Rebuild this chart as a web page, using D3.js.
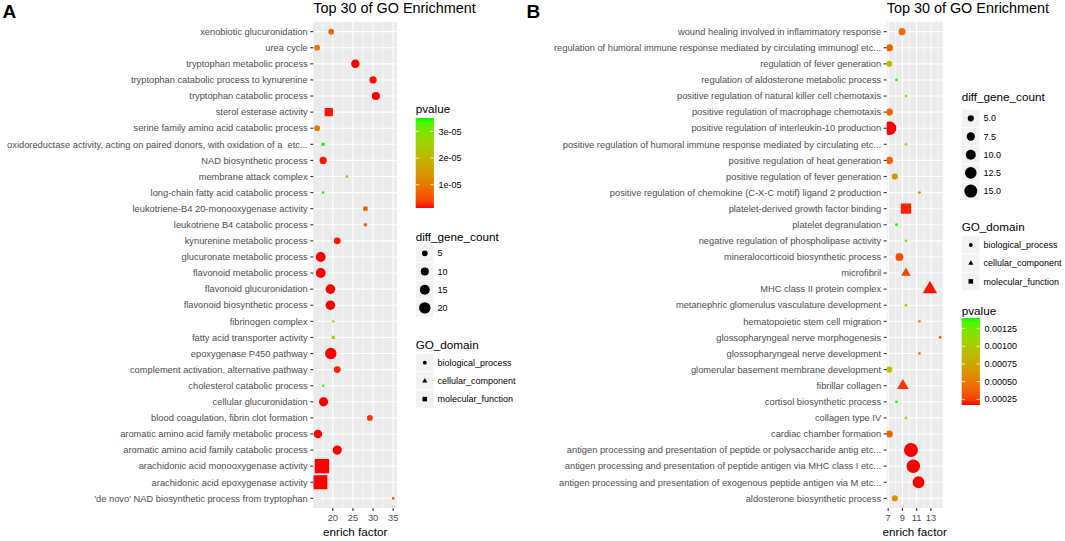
<!DOCTYPE html>
<html>
<head>
<meta charset="utf-8">
<script src="https://cdn.jsdelivr.net/npm/d3@7"></script>
<style>
  body { margin: 0; background: #fff; }
  svg text { font-family: 'Liberation Sans', Arial, sans-serif; white-space: pre; }
</style>
</head>
<body>
<svg width="1065" height="541"></svg>
<script>
// ---- panel A data (top to bottom) ----
const termsA = [
  'xenobiotic glucuronidation', 'urea cycle', 'tryptophan metabolic process',
  'tryptophan catabolic process to kynurenine', 'tryptophan catabolic process',
  'sterol esterase activity', 'serine family amino acid catabolic process',
  'oxidoreductase activity, acting on paired donors, with oxidation of a  etc...',
  'NAD biosynthetic process', 'membrane attack complex',
  'long-chain fatty acid catabolic process', 'leukotriene-B4 20-monooxygenase activity',
  'leukotriene B4 catabolic process', 'kynurenine metabolic process',
  'glucuronate metabolic process', 'flavonoid metabolic process',
  'flavonoid glucuronidation', 'flavonoid biosynthetic process', 'fibrinogen complex',
  'fatty acid transporter activity', 'epoxygenase P450 pathway',
  'complement activation, alternative pathway', 'cholesterol catabolic process',
  'cellular glucuronidation', 'blood coagulation, fibrin clot formation',
  'aromatic amino acid family metabolic process', 'aromatic amino acid family catabolic process',
  'arachidonic acid monooxygenase activity', 'arachidonic acid epoxygenase activity',
  '\'de novo\' NAD biosynthetic process from tryptophan'
];
const enrichA = [19.6, 16.1, 25.6, 30.0, 30.7, 19.0, 16.1, 17.6, 17.6, 23.5, 17.6, 28.1, 28.1, 21.1, 17.0,
  17.0, 19.4, 19.4, 20.1, 20.1, 19.5, 21.1, 17.6, 17.7, 29.2, 16.3, 21.1, 17.3, 16.9, 35.0];
const countA = [5, 5, 11, 8, 10, 7, 5, 1, 8, 1, 1, 2, 2, 7, 15, 15, 14, 14, 1, 1, 20, 7, 1, 13, 5, 11, 13, 22, 21, 1];
const pvalA = [7.0e-6, 9.7e-6, 1.3e-6, 1.6e-6, 1.3e-6, 1.6e-6, 9.7e-6, 3.5e-5, 1.6e-6, 1.48e-5, 3.5e-5, 6.4e-6,
  6.4e-6, 1.6e-6, 1.3e-6, 1.3e-6, 1.3e-6, 1.3e-6, 2.32e-5, 2.32e-5, 1.3e-6, 2.0e-6, 3.4e-5, 1.3e-6, 3.0e-6,
  1.3e-6, 1.3e-6, 1.3e-6, 1.3e-6, 5.3e-6];
const domainA = ['bp', 'bp', 'bp', 'bp', 'bp', 'mf', 'bp', 'mf', 'bp', 'cc', 'bp', 'mf', 'bp', 'bp', 'bp',
  'bp', 'bp', 'bp', 'cc', 'mf', 'bp', 'bp', 'bp', 'bp', 'bp', 'bp', 'bp', 'mf', 'mf', 'bp'];

// ---- panel B data (top to bottom) ----
const termsB = [
  'wound healing involved in inflammatory response',
  'regulation of humoral immune response mediated by circulating immunogl etc...',
  'regulation of fever generation', 'regulation of aldosterone metabolic process',
  'positive regulation of natural killer cell chemotaxis',
  'positive regulation of macrophage chemotaxis',
  'positive regulation of interleukin-10 production',
  'positive regulation of humoral immune response mediated by circulating etc...',
  'positive regulation of heat generation', 'positive regulation of fever generation',
  'positive regulation of chemokine (C-X-C motif) ligand 2 production',
  'platelet-derived growth factor binding', 'platelet degranulation',
  'negative regulation of phospholipase activity', 'mineralocorticoid biosynthetic process',
  'microfibril', 'MHC class II protein complex', 'metanephric glomerulus vasculature development',
  'hematopoietic stem cell migration', 'glossopharyngeal nerve morphogenesis',
  'glossopharyngeal nerve development', 'glomerular basement membrane development',
  'fibrillar collagen', 'cortisol biosynthetic process', 'collagen type IV',
  'cardiac chamber formation',
  'antigen processing and presentation of peptide or polysaccharide antig etc...',
  'antigen processing and presentation of peptide antigen via MHC class I etc...',
  'antigen processing and presentation of exogenous peptide antigen via M etc...',
  'aldosterone biosynthetic process'
];
const enrichB = [8.95, 7.18, 7.15, 8.16, 9.5, 7.18, 7.2, 9.5, 7.18, 7.93, 11.4, 9.5, 8.16, 9.5, 8.58,
  9.5, 12.86, 9.5, 11.4, 14.3, 11.4, 7.15, 9.07, 8.16, 9.5, 7.15, 10.2, 10.53, 11.27, 7.93];
const countB = [6, 6, 5, 2, 2, 6, 16, 2, 6, 5, 2, 8, 2, 2, 7, 6, 11, 2, 2, 2, 2, 5, 8, 2, 2, 6, 17, 16, 13, 5];
const pvalB = [0.00044, 0.00039, 0.00091, 0.0014, 0.00109, 0.00039, 0.00017, 0.00109, 0.00039, 0.00064,
  0.00058, 0.0002, 0.0014, 0.00109, 0.00032, 0.00027, 0.00018, 0.00109, 0.00058, 0.00035, 0.00058,
  0.00091, 0.00023, 0.0014, 0.00109, 0.00039, 0.00017, 0.00017, 0.00017, 0.00064];
const domainB = ['bp', 'bp', 'bp', 'bp', 'bp', 'bp', 'bp', 'bp', 'bp', 'bp', 'bp', 'mf', 'bp', 'bp', 'bp',
  'cc', 'cc', 'bp', 'bp', 'bp', 'bp', 'bp', 'cc', 'bp', 'cc', 'bp', 'bp', 'bp', 'bp', 'bp'];

// ---- legend / axis labels ----
const domainKeys = ['bp', 'cc', 'mf'];
const domainNames = ['biological_process', 'cellular_component', 'molecular_function'];
const xTicksA = [20, 25, 30, 35];
const xTicksB = [7, 9, 11, 13];
const sizeBreaksA = [5, 10, 15, 20];
const sizeBreaksB = [5, 7.5, 10, 12.5, 15];
const pBreaksA = [1e-5, 2e-5, 3e-5];
const pLabelsA = ['1e-05', '2e-05', '3e-05'];
const pBreaksB = [0.00025, 0.0005, 0.00075, 0.001, 0.00125];
const pLabelsB = ['0.00025', '0.00050', '0.00075', '0.00100', '0.00125'];

const svg = d3.select('svg');

// R-like point shapes: circle, solid square (slightly larger), triangle
const shapePath = (dom, r) => {
  if (dom === 'mf') {
    const s = r * 1.2;
    return `M${-s},${-s}H${s}V${s}H${-s}Z`;
  }
  if (dom === 'cc') {
    return `M0,${-1.555 * r}L${1.347 * r},${0.778 * r}L${-1.347 * r},${0.778 * r}Z`;
  }
  return `M${-r},0a${r},${r} 0 1,0 ${2 * r},0a${r},${r} 0 1,0 ${-2 * r},0Z`;
};

const drawPanel = (p) => {
  const g = svg.append('g');
  const x0 = p.extent[0];
  const x1 = p.extent[1];
  const top = 22;
  const bottom = 508;

  const ext = d3.extent(p.enrich);
  const pad = (ext[1] - ext[0]) * 0.05;
  const x = d3.scaleLinear().domain([ext[0] - pad, ext[1] + pad]).range([x0, x1]);
  const y = d3.scalePoint().domain(p.terms).range([top, bottom]).padding(0.6);
  const size = d3.scaleSqrt().domain(d3.extent(p.count)).range(p.rRange);
  const pExt = d3.extent(p.pval);
  const color = d3.scaleLinear().domain(pExt).range(['#ff0000', '#00ff00']).interpolate(d3.interpolateLab);

  // panel background + grid
  g.append('rect').attr('x', x0).attr('y', top).attr('width', x1 - x0).attr('height', bottom - top)
    .attr('fill', '#EBEBEB');
  const step = p.xTicks[1] - p.xTicks[0];
  const minor = d3.range(p.xTicks[0] - step / 2, x.domain()[1], step)
    .filter(v => v > x.domain()[0]);
  g.selectAll('.minor').data(minor).enter().append('line')
    .attr('x1', d => x(d)).attr('x2', d => x(d)).attr('y1', top).attr('y2', bottom)
    .attr('stroke', '#fff').attr('stroke-width', 0.55);
  g.selectAll('.major').data(p.xTicks).enter().append('line')
    .attr('x1', d => x(d)).attr('x2', d => x(d)).attr('y1', top).attr('y2', bottom)
    .attr('stroke', '#fff').attr('stroke-width', 1.1);
  g.selectAll('.hgrid').data(p.terms).enter().append('line')
    .attr('x1', x0).attr('x2', x1).attr('y1', d => y(d)).attr('y2', d => y(d))
    .attr('stroke', '#fff').attr('stroke-width', 1.1);

  // points, clipped to the panel
  g.append('clipPath').attr('id', `clip-${p.tag}`)
    .append('rect').attr('x', x0).attr('y', top).attr('width', x1 - x0).attr('height', bottom - top);
  g.append('g').attr('clip-path', `url(#clip-${p.tag})`)
    .selectAll('path')
    .data(p.terms.map((t, i) => i))
    .enter().append('path')
    .attr('transform', i => `translate(${x(p.enrich[i])},${y(p.terms[i])})`)
    .attr('d', i => shapePath(p.domain[i], size(p.count[i])))
    .attr('fill', i => color(p.pval[i]));

  // y axis
  g.selectAll('.ytick').data(p.terms).enter().append('line')
    .attr('x1', x0 - 3).attr('x2', x0).attr('y1', d => y(d)).attr('y2', d => y(d))
    .attr('stroke', '#333').attr('stroke-width', 1.1);
  g.selectAll('.ylab').data(p.terms).enter().append('text')
    .attr('x', x0 - 5.6).attr('y', d => y(d)).attr('dy', '0.35em')
    .attr('text-anchor', 'end').attr('font-size', '9.3px').attr('fill', '#4D4D4D')
    .text(d => d);

  // x axis
  g.selectAll('.xtick').data(p.xTicks).enter().append('line')
    .attr('x1', d => x(d)).attr('x2', d => x(d)).attr('y1', bottom).attr('y2', bottom + 3)
    .attr('stroke', '#333').attr('stroke-width', 1.1);
  g.selectAll('.xlab').data(p.xTicks).enter().append('text')
    .attr('x', d => x(d)).attr('y', bottom + 12.5)
    .attr('text-anchor', 'middle').attr('font-size', '9.3px').attr('fill', '#4D4D4D')
    .text(d => d);
  g.append('text').attr('x', (x0 + x1) / 2).attr('y', 535.5).attr('text-anchor', 'middle')
    .attr('font-size', '11.7px').attr('fill', '#000').text('enrich factor');

  // title and tag
  g.append('text').attr('x', x0).attr('y', 12.7).attr('font-size', '14.4px').attr('fill', '#000')
    .text('Top 30 of GO Enrichment');
  g.append('text').attr('x', p.tagX).attr('y', 18.3).attr('font-size', '19px').attr('font-weight', 'bold')
    .attr('fill', '#000').text(p.tag);

  // ---- legends ----
  const lx = p.legendX;
  const key = 18.2;

  // colour bar
  const cb = p.cbar;
  const gradId = `grad-${p.tag}`;
  const grad = svg.append('defs').append('linearGradient').attr('id', gradId)
    .attr('x1', 0).attr('y1', 1).attr('x2', 0).attr('y2', 0);
  d3.range(0, 1.0001, 0.05).forEach((t) => {
    grad.append('stop').attr('offset', t)
      .attr('stop-color', color(pExt[0] + t * (pExt[1] - pExt[0])));
  });
  g.append('text').attr('x', lx).attr('y', cb.title).attr('font-size', '11.7px').text('pvalue');
  g.append('rect').attr('x', lx).attr('y', cb.top).attr('width', key).attr('height', cb.h)
    .attr('fill', `url(#${gradId})`);
  const cy = d3.scaleLinear().domain(pExt).range([cb.top + cb.h, cb.top]);
  p.pBreaks.forEach((v, i) => {
    g.append('line').attr('x1', lx).attr('x2', lx + 3.6).attr('y1', cy(v)).attr('y2', cy(v))
      .attr('stroke', '#fff').attr('stroke-width', 0.8);
    g.append('line').attr('x1', lx + key - 3.6).attr('x2', lx + key).attr('y1', cy(v)).attr('y2', cy(v))
      .attr('stroke', '#fff').attr('stroke-width', 0.8);
    g.append('text').attr('x', lx + key + 4.6).attr('y', cy(v)).attr('dy', '0.35em')
      .attr('font-size', '9px').text(p.pLabels[i]);
  });

  // size legend
  const sl = p.sizeLeg;
  g.append('text').attr('x', lx).attr('y', sl.title).attr('font-size', '11.7px').text('diff_gene_count');
  p.sizeBreaks.forEach((v, i) => {
    const c = sl.first + i * key;
    g.append('rect').attr('x', lx).attr('y', c - key / 2).attr('width', key).attr('height', key)
      .attr('fill', '#F2F2F2').attr('stroke', '#fff').attr('stroke-width', 0.8);
    g.append('path').attr('transform', `translate(${lx + key / 2},${c})`)
      .attr('d', shapePath('bp', size(v))).attr('fill', '#000');
    g.append('text').attr('x', lx + key + 3.6).attr('y', c).attr('dy', '0.35em')
      .attr('font-size', '9px').text(p.sizeLabels[i]);
  });

  // shape legend
  const dl = p.domLeg;
  g.append('text').attr('x', lx).attr('y', dl.title).attr('font-size', '11.7px').text('GO_domain');
  domainKeys.forEach((k, i) => {
    const c = dl.first + i * key;
    g.append('rect').attr('x', lx).attr('y', c - key / 2).attr('width', key).attr('height', key)
      .attr('fill', '#F2F2F2').attr('stroke', '#fff').attr('stroke-width', 0.8);
    g.append('path').attr('transform', `translate(${lx + key / 2},${c})`)
      .attr('d', shapePath(k, 1.9)).attr('fill', '#000');
    g.append('text').attr('x', lx + key + 3.6).attr('y', c).attr('dy', '0.35em')
      .attr('font-size', '9px').text(domainNames[i]);
  });
};

drawPanel({
  tag: 'A',
  tagX: 2.5,
  terms: termsA,
  enrich: enrichA,
  count: countA,
  pval: pvalA,
  domain: domainA,
  extent: [313.3, 397],
  xTicks: xTicksA,
  rRange: [1.3, 6],
  sizeBreaks: sizeBreaksA,
  sizeLabels: sizeBreaksA.map(String),
  pBreaks: pBreaksA,
  pLabels: pLabelsA,
  legendX: 415.7,
  cbar: { title: 112.5, top: 118, h: 90 },
  sizeLeg: { title: 241, first: 253.3 },
  domLeg: { title: 349, first: 362.7 }
});

drawPanel({
  tag: 'B',
  tagX: 526.5,
  terms: termsB,
  enrich: enrichB,
  count: countB,
  pval: pvalB,
  domain: domainB,
  extent: [886.7, 942.7],
  xTicks: xTicksB,
  rRange: [1.4, 7],
  sizeBreaks: sizeBreaksB,
  sizeLabels: sizeBreaksB.map(d => d.toFixed(1)),
  pBreaks: pBreaksB,
  pLabels: pLabelsB,
  legendX: 961.7,
  cbar: { title: 315, top: 318, h: 87 },
  sizeLeg: { title: 101, first: 118.3 },
  domLeg: { title: 231, first: 245 }
});
</script>
</body>
</html>
